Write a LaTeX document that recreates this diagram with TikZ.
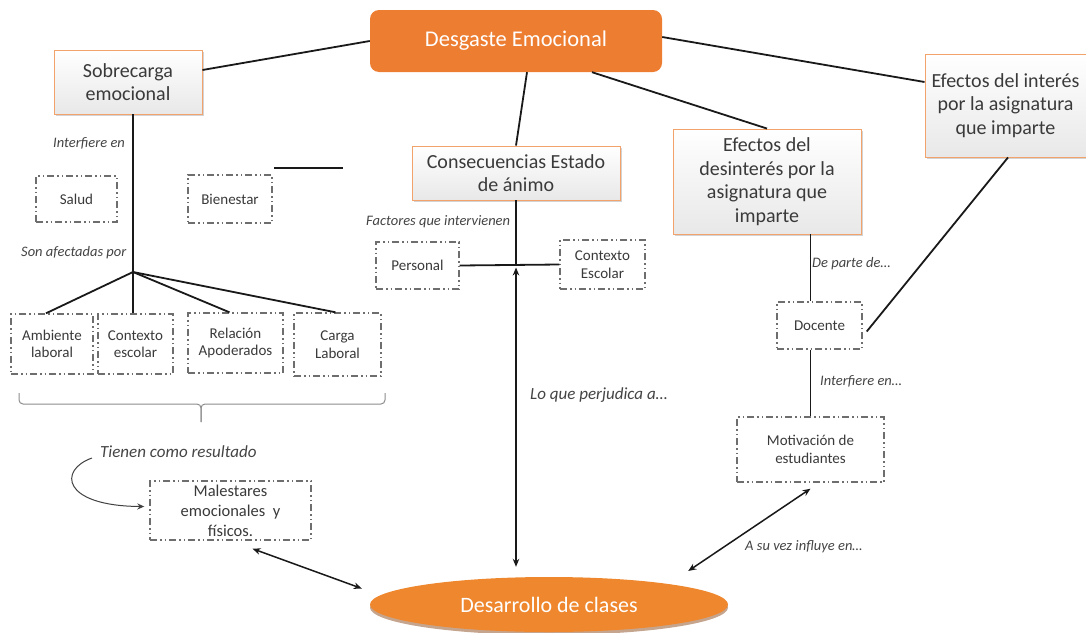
\documentclass[tikz,border=0pt]{standalone}
\usepackage{fontspec}
\setmainfont{Carlito}
\usetikzlibrary{shapes.geometric,shadows,calc,arrows.meta}
\definecolor{orng}{HTML}{ED7D31}
\definecolor{orngb}{HTML}{F2A36C}
\definecolor{txt}{HTML}{3A3A3A}
\definecolor{lbl}{HTML}{444444}
\definecolor{dboxc}{HTML}{6E6E6E}
\tikzset{
  mainbox/.style={draw=orngb, line width=0.9pt, top color=white, bottom color=black!9,
    drop shadow={shadow xshift=2pt,shadow yshift=-2pt,opacity=0.35},
    text=txt, font=\fontsize{20}{23.5}\selectfont, align=center, inner sep=2pt},
  dbox/.style={draw=dboxc, line width=1.4pt,
    dash pattern=on 7pt off 3pt on 1.5pt off 3pt on 1.5pt off 3pt,
    fill=white, text=txt, font=\fontsize{15}{17.5}\selectfont, align=center, inner sep=1pt},
  lab/.style={text=lbl, font=\fontsize{14.5}{17}\selectfont\itshape, inner sep=0pt, anchor=west},
  biglab/.style={lab, font=\fontsize{17}{20}\selectfont\itshape},
  conn/.style={line width=1.8pt, draw=black!90},
  dbl/.style={line width=1.5pt, draw=black!90, {Stealth[length=8pt,width=6.5pt]}-{Stealth[length=8pt,width=6.5pt]}}
}
\begin{document}
\begin{tikzpicture}[x=1pt,y=-1pt]
\useasboundingbox (0,0) rectangle (1086,632);
% main nodes
\node[fill=orng, rounded corners=9pt, minimum width=292pt, minimum height=62pt,
  text=white, font=\fontsize{22.5}{26}\selectfont] (des) at (516,41) {Desgaste Emocional};
\node[mainbox, minimum width=148pt, minimum height=64pt] (sob) at (128,82) {Sobrecarga\\emocional};
\node[mainbox, minimum width=161pt, minimum height=103pt] (efi) at (1005.5,105.5) {Efectos del interés\\por la asignatura\\que imparte};
\node[mainbox, minimum width=188pt, minimum height=105pt] (efd) at (767,181.5) {Efectos del\\desinterés por la\\asignatura que\\imparte};
\node[mainbox, minimum width=208pt, minimum height=54pt] (con) at (516,173) {Consecuencias Estado\\de ánimo};
\node[ellipse, fill=orng!92!yellow, minimum width=358pt, minimum height=55pt,
  drop shadow={shadow xshift=0pt,shadow yshift=-3pt,opacity=0.5,fill=orng!60!black},
  text=white, font=\fontsize{22}{25}\selectfont] (dc) at (549,604.5) {Desarrollo de clases};
% dashed boxes
\node[dbox, minimum width=81pt, minimum height=46pt] (salud) at (76.5,199) {Salud};
\node[dbox, minimum width=84pt, minimum height=48pt] (bien) at (230,199) {Bienestar};
\node[dbox, minimum width=82pt, minimum height=60pt] (amb) at (52,344) {Ambiente\\laboral};
\node[dbox, minimum width=75pt, minimum height=60pt] (ctx) at (135.5,344) {Contexto\\escolar};
\node[dbox, minimum width=95pt, minimum height=60pt] (rel) at (235.5,343) {Relación\\Apoderados};
\node[dbox, minimum width=87pt, minimum height=63pt] (carga) at (337.5,344.5) {Carga\\Laboral};
\node[dbox, font=\fontsize{16.5}{20}\selectfont, minimum width=161pt, minimum height=59pt] (mal) at (230.5,510.5) {Malestares\\emocionales\ \ y\\físicos.};
\node[dbox, minimum width=83pt, minimum height=47pt] (per) at (417.5,265.5) {Personal};
\node[dbox, minimum width=85pt, minimum height=49pt] (ces) at (602.5,264.5) {Contexto\\Escolar};
\node[dbox, minimum width=85pt, minimum height=47pt] (doc) at (819.5,325.5) {Docente};
\node[dbox, minimum width=147pt, minimum height=65pt] (mot) at (810.5,449.5) {Motivación de\\estudiantes};
% labels
\node[lab] (l1) at (53,143) {Interfiere en};
\node[lab] (l2) at (21,253) {Son afectadas por};
\node[lab] (l3) at (366,222) {Factores que intervienen};
\node[biglab] (l4) at (530,395) {Lo que perjudica a\dots};
\node[lab] (l5) at (812,264) {De parte de\dots};
\node[lab] (l6) at (820,381) {Interfiere en\dots};
\node[lab] (l7) at (745,547) {A su vez influye en\dots};
\node[biglab] (tcr) at (100,452) {Tienen como resultado};
% coordinates
\coordinate (j1) at (133,272);
\coordinate (s1) at (274,168);
\coordinate (s2) at (343,168);
\coordinate (j2) at (con.south |- per.east);
% connectors from the top node
\draw[conn] (des.west) -- ($(sob.east)+(0,-12)$);
\draw[conn] ($(des.east)+(0,-4)$) -- ($(efi.west)+(0,-23.5)$);
\draw[conn] ($(des.south)+(76,0)$) -- (efd.north);
\draw[conn] ($(des.south)+(11,0)$) -- (con.north);
% left branch
\draw[conn] (sob.south -| j1) -- (j1);
\draw[conn] (j1) -- ($(amb.north)+(-6,0)$);
\draw[conn] (j1) -- (j1 |- ctx.north);
\draw[conn] (j1) -- ($(rel.north)+(-6,0)$);
\draw[conn] (j1) -- ($(carga.north)+(-2,0)$);
\draw[conn] (s1) -- (s2);
% brace
\draw[draw=black!45, line width=1pt, rounded corners=4pt]
  (19,393) -- (19,404) -- (201,404) -- (201,422);
\draw[draw=black!45, line width=1pt, rounded corners=4pt]
  (201,422) -- (201,404) -- (385,404) -- (385,393);
% curved arrow
\draw[line width=1pt, draw=black!75, -{Stealth[length=7pt,width=6pt]}]
  ($(tcr.west)+(-8,6)$) .. controls (58,470) and (62,506) .. ($(mal.west)+(-5,-4)$);
% middle branch
\draw[conn] (con.south) -- (j2);
\draw[conn] (per.east) -- (ces.west);
\draw[dbl] ($(j2)+(0,2)$) -- ($(j2 |- dc.north)+(0,-10)$);
\draw[dbl] ($(mal.south)+(22,8)$) -- ($(dc.west)+(-8,-16)$);
% right branch
\draw[conn] (efd.south -| mot.north) -- (doc.north -| mot.north);
\draw[conn] ($(efi.south)+(2.5,0)$) -- ($(doc.east)+(4,6)$);
\draw[conn] (doc.south -| mot.north) -- (mot.north);
\draw[dbl] ($(mot.south)+(0,6)$) -- ($(dc.east)+(-40,-33.5)$);
\end{tikzpicture}
\end{document}
